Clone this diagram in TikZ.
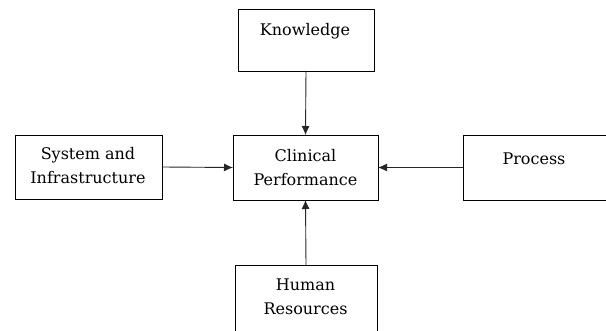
\documentclass[tikz,border=0pt]{standalone}
\usepackage{fontspec}
\setmainfont{DejaVu Serif}
\usetikzlibrary{arrows.meta}
\begin{document}
\begin{tikzpicture}[x=1pt,y=-1pt,
  box/.style={draw=black, line width=0.9pt, rectangle, inner sep=0pt, outer sep=0pt},
  openbox/.style={line width=0.9pt, rectangle, inner sep=0pt, outer sep=0pt},
  edge/.style={draw=black, line width=0.9pt},
  txt/.style={anchor=north, inner sep=0pt, align=center, font=\fontsize{16}{24}\selectfont},
  arr/.style={draw=black!85, line width=0.9pt, -{Latex[length=9pt,width=8pt]}}]
\fill[white] (0,0) rectangle (606,331);
\useasboundingbox (0,0) rectangle (606,331);
% boxes
\node[box, minimum width=136pt, minimum height=62pt] (K) at (306,40) {};
\node[box, minimum width=147pt, minimum height=64pt] (S) at (88.5,167) {};
\node[box, minimum width=145pt, minimum height=65pt] (C) at (305.5,167.5) {};
\node[openbox, minimum width=143pt, minimum height=65pt] (P) at (534.5,167.5) {};
\node[openbox, minimum width=142pt, minimum height=66pt] (H) at (306,298) {};
\draw[edge] (P.north east) -- (P.north west) -- (P.south west) -- (P.south east);
\draw[edge] (H.south west) -- (H.north west) -- (H.north east) -- (H.south east);
% texts
\node[txt] (tK) at (305,35-16.8) {Knowledge\strut};
\node[txt] (tS) at (88,159-16.8) {System and\strut\\Infrastructure\strut};
\node[txt] (tC) at (305.5,161.5-16.8) {Clinical\strut\\Performance\strut};
\node[txt] (tP) at (534,164-16.8) {Process\strut};
\node[txt] (tH) at (305.5,290-16.8) {Human\strut\\Resources\strut};
% connectors
\draw[arr] (K.south) -- (C.north);
\draw[arr] (S.east) -- (C.west);
\draw[arr] (P.west) -- (C.east);
\draw[arr] (H.north) -- (C.south);
\end{tikzpicture}
\end{document}
